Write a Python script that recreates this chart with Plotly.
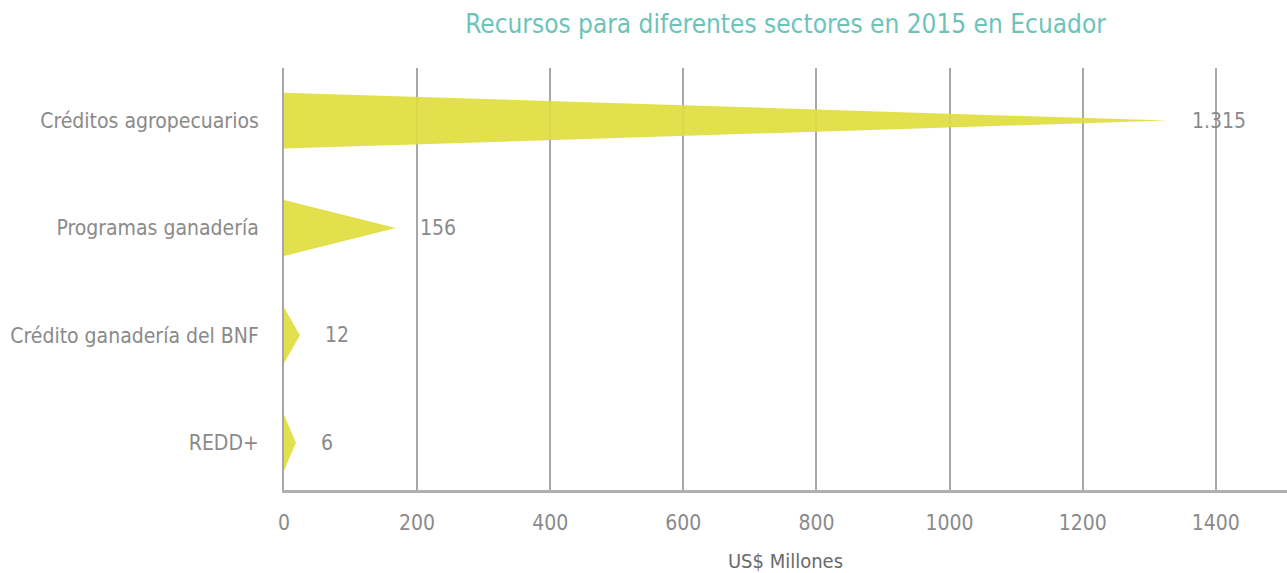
"""Recursos para diferentes sectores en 2015 en Ecuador - triangle bar chart."""

import plotly.graph_objects as go

categories = [
    "REDD+",
    "Crédito ganadería del BNF",
    "Programas ganadería",
    "Créditos agropecuarios",
]
values = [6, 12, 156, 1315]
value_labels = ["6", "12", "156", "1.315"]
x_ticks = [0, 200, 400, 600, 800, 1000, 1200, 1400]

FONT = "Liberation Sans Narrow, DejaVu Sans Condensed, Roboto, sans-serif"
GREY = "#8a8a8a"
BAR = "rgba(224, 221, 62, 0.92)"
HALF = 0.26  # half height of each triangle, in category units
TIP_PAD = 12  # small extra reach so tiny values stay visible

fig = go.Figure()

for i, (cat, val) in enumerate(zip(categories, values)):
    fig.add_trace(
        go.Scatter(
            x=[0, val + TIP_PAD, 0, 0],
            y=[i - HALF, i, i + HALF, i - HALF],
            mode="lines",
            fill="toself",
            fillcolor=BAR,
            line={"width": 0},
            hoverinfo="skip",
            showlegend=False,
            name=cat,
        )
    )

label_offset = 46
for i, (val, lab) in enumerate(zip(values, value_labels)):
    fig.add_annotation(
        x=val + label_offset,
        y=i,
        text=lab,
        showarrow=False,
        xanchor="left",
        yanchor="middle",
        font={"family": FONT, "size": 21, "color": GREY},
    )

fig.update_xaxes(
    range=[0, 1507],
    tickvals=x_ticks,
    showgrid=True,
    gridcolor="#a6a6ab",
    gridwidth=2,
    zeroline=False,
    showline=True,
    linecolor="#b0b0b0",
    linewidth=3,
    ticks="",
    automargin=False,
    tickfont={"family": FONT, "size": 21, "color": GREY},
    ticklabelstandoff=12,
    title={"text": "US$ Millones", "font": {"family": FONT, "size": 20, "color": "#6a6a6a"}, "standoff": 22},
)
fig.update_yaxes(
    range=[-0.44, 3.49],
    tickvals=list(range(len(categories))),
    ticktext=categories,
    showgrid=False,
    zeroline=False,
    showline=True,
    linecolor="#a6a6ab",
    linewidth=2,
    ticks="",
    automargin=False,
    tickfont={"family": FONT, "size": 21, "color": GREY},
    ticklabelstandoff=19,
)

fig.update_layout(
    title={
        "text": "Recursos para diferentes sectores en 2015 en Ecuador",
        "x": 0.5,
        "xref": "paper",
        "xanchor": "center",
        "y": 0.958,
        "yanchor": "middle",
        "font": {"family": FONT, "size": 26, "color": "#6cc4b8"},
    },
    width=1287,
    height=573,
    margin={"l": 284, "r": 0, "t": 68, "b": 83},
    plot_bgcolor="white",
    paper_bgcolor="white",
)

fig.write_html(
    "out.html",
    config={"displayModeBar": False},
    post_script="document.body.style.margin='0';",
)
